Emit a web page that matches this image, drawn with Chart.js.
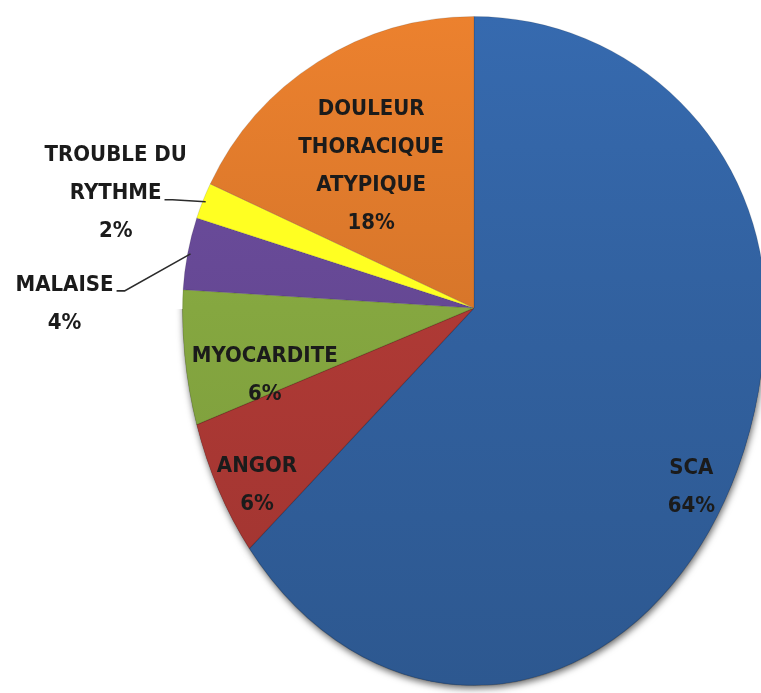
<!DOCTYPE html>
<html>
<head>
<meta charset="utf-8">
<script src="https://cdn.jsdelivr.net/npm/chart.js@4/dist/chart.umd.min.js"></script>
<style>
    html, body { margin: 0; padding: 0; background: #fff; overflow: hidden; }
    #wrap { position: absolute; left: 0; top: 0; }
</style>
</head>
<body>
<div id="wrap"><canvas id="chartMotifs" width="770" height="693"></canvas></div>
<script>
// === DONNÉES ===
const categories = ["SCA", "ANGOR", "MYOCARDITE", "MALAISE", "TROUBLE DU RYTHME", "DOULEUR THORACIQUE ATYPIQUE"];
const labelLines = [["SCA"], ["ANGOR"], ["MYOCARDITE"], ["MALAISE"], ["TROUBLE DU", "RYTHME"], ["DOULEUR", "THORACIQUE", "ATYPIQUE"]];
const percents = [64, 6, 6, 4, 2, 18];
const sliceColors = ["#3466a8", "#b83d38", "#8cb043", "#6b4c9c", "#ffff22", "#e37c2c"];

// placement des étiquettes (style) : dans la part ou dehors avec trait
const labelPlace = [
    { r: 0.884, shift: 7.3 },
    { r: 0.88, shift: -3.4 },
    { r: 0.74, shift: -6.8 },
    { out: true, dx: -126, dy: 50 },
    { out: true, dx: -90, dy: -8 },
    { r: 0.60, shift: -3.6 }
];

const bottomStretch = 378 / 292;   // effet perspective sur la moitié basse
const lineGap = 38;
const labelFont = "bold 22px 'Liberation Sans Narrow', 'DejaVu Sans Condensed', sans-serif";

function shade(hex, f) {
    let n = parseInt(hex.slice(1), 16);
    let r = Math.min(255, Math.round(((n >> 16) & 255) * f));
    let g = Math.min(255, Math.round(((n >> 8) & 255) * f));
    let b = Math.min(255, Math.round((n & 255) * f));
    return "rgb(" + r + "," + g + "," + b + ")";
}

function sliceFill(context) {
    let base = sliceColors[context.dataIndex];
    let area = context.chart.chartArea;
    if (!area || context.dataIndex == 4) return base;
    let grad = context.chart.ctx.createLinearGradient(0, area.top, 0, area.bottom);
    grad.addColorStop(0, shade(base, 1.04));
    grad.addColorStop(1, shade(base, 0.86));
    return grad;
}

// point sur la part, avec la moitié basse étirée
function piePoint(arc, angle, radius) {
    let dx = Math.cos(angle) * radius;
    let dy = Math.sin(angle) * radius;
    if (dy > 0) dy *= bottomStretch;
    return { x: arc.x + dx, y: arc.y + dy };
}

// === MOITIÉ BASSE ÉTIRÉE + OMBRE ===
const tiltPlugin = {
    id: "tilt",
    beforeDatasetsDraw(chart) {
        let ctx = chart.ctx;
        let cy = Math.round(chart.getDatasetMeta(0).data[0].y);
        ctx.save();
        ctx.beginPath();
        ctx.rect(0, 0, chart.width, cy + 1);
        ctx.clip();
    },
    afterDatasetsDraw(chart) {
        let ctx = chart.ctx;
        ctx.restore();
        let meta = chart.getDatasetMeta(0);
        let cy = meta.data[0].y;
        let cut = Math.round(cy) + 1;
        ctx.save();
        ctx.beginPath();
        ctx.rect(0, cut, chart.width, chart.height - cut);
        ctx.clip();
        ctx.translate(0, cy);
        ctx.scale(1, bottomStretch);
        ctx.translate(0, -cy);
        // ombre d'abord, puis les parts par-dessus
        ctx.save();
        ctx.shadowColor = "rgba(0,0,0,0.6)";
        ctx.shadowBlur = 7;
        ctx.shadowOffsetX = 1;
        ctx.shadowOffsetY = 3;
        meta.data.forEach(arc => arc.draw(ctx));
        ctx.restore();
        meta.data.forEach(arc => arc.draw(ctx));
        ctx.restore();
    }
};

// === ÉTIQUETTES ===
const labelPlugin = {
    id: "sliceLabels",
    afterDraw(chart) {
        let ctx = chart.ctx;
        let meta = chart.getDatasetMeta(0);
        ctx.save();
        ctx.font = labelFont;
        ctx.fillStyle = "#1b1b1b";
        ctx.textAlign = "center";
        ctx.textBaseline = "middle";

        meta.data.forEach((arc, i) => {
            let lines = labelLines[i].concat([percents[i] + "%"]);
            let place = labelPlace[i];
            let mid = (arc.startAngle + arc.endAngle) / 2;
            let cx, cy;

            if (place.out) {
                let anchor = piePoint(arc, mid, arc.outerRadius * 0.99);
                cx = anchor.x + place.dx;
                cy = anchor.y + place.dy;
                // trait de rappel
                let k = labelLines[i].length - 1;
                let ly = cy - (lines.length - 1) * lineGap / 2 + k * lineGap + 6;
                let lx = cx + ctx.measureText(lines[k]).width / 2 + 3;
                ctx.beginPath();
                ctx.moveTo(lx, ly);
                ctx.lineTo(lx + 8, ly);
                ctx.lineTo(anchor.x, anchor.y);
                ctx.strokeStyle = "#2b2b2b";
                ctx.lineWidth = 1.6;
                ctx.stroke();
            } else {
                let p = piePoint(arc, mid + place.shift * Math.PI / 180, arc.outerRadius * place.r);
                cx = p.x;
                cy = p.y;
            }

            let y0 = cy - (lines.length - 1) * lineGap / 2;
            lines.forEach((t, j) => ctx.fillText(t, cx, y0 + j * lineGap));
        });
        ctx.restore();
    }
};

new Chart(document.getElementById("chartMotifs"), {
    type: "pie",
    data: {
        labels: categories,
        datasets: [{
            data: percents,
            backgroundColor: sliceFill,
            borderColor: "rgba(0,0,0,0.12)",
            borderWidth: 1
        }]
    },
    options: {
        responsive: false,
        animation: false,
        layout: { padding: { left: 182, right: 4, top: 16, bottom: 93 } },
        plugins: {
            legend: { display: false },
            tooltip: { enabled: false }
        }
    },
    plugins: [tiltPlugin, labelPlugin]
});
</script>
</body>
</html>
